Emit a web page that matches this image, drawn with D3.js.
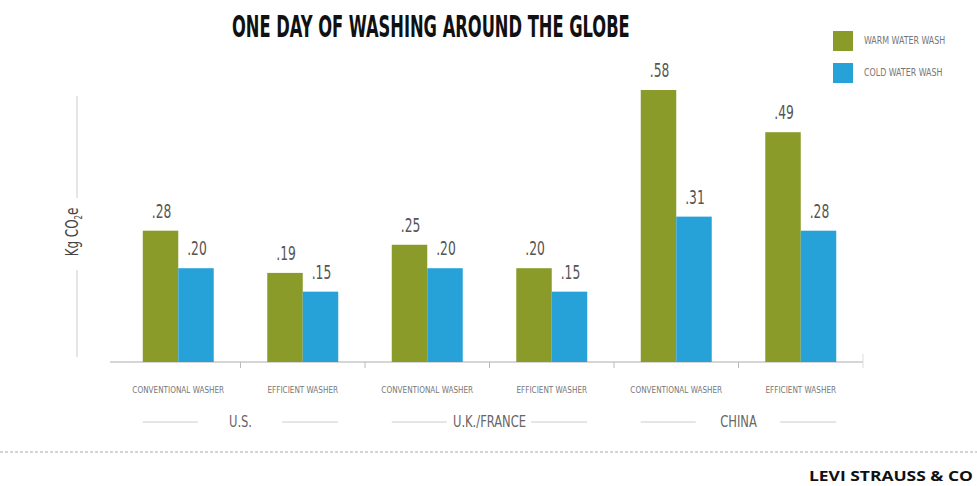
<!DOCTYPE html>
<html><head><meta charset="utf-8">
<script src="https://cdn.jsdelivr.net/npm/d3@7"></script>
<style>
body{margin:0;background:#fff;}
svg{display:block;}
text{font-family:"Liberation Sans Narrow","DejaVu Sans Condensed","Roboto",sans-serif;}
</style></head>
<body>
<svg id="c" width="977" height="486"></svg>
<script>
const categories = ["CONVENTIONAL WASHER","EFFICIENT WASHER","CONVENTIONAL WASHER","EFFICIENT WASHER","CONVENTIONAL WASHER","EFFICIENT WASHER"];
const regions = ["U.S.","U.K./FRANCE","CHINA"];
const seriesNames = ["WARM WATER WASH","COLD WATER WASH"];
const warm = [0.28,0.19,0.25,0.20,0.58,0.49];
const cold = [0.20,0.15,0.20,0.15,0.31,0.28];
const valueLabels = [[".28",".19",".25",".20",".58",".49"],[".20",".15",".20",".15",".31",".28"]];
const colors = ["#8a9b2a","#27a2d9"];
const title = "ONE DAY OF WASHING AROUND THE GLOBE";
const yLabel = "Kg CO";

const svg = d3.select("#c");
const baseY = 362;
const x = d3.scaleBand().domain(d3.range(categories.length)).range([116,863]).paddingInner(0.43).paddingOuter(0.215);
const xs = d3.scaleBand().domain([0,1]).range([0,x.bandwidth()]);
const y = d3.scaleLinear().domain([0,0.58]).range([baseY,90]);

function ctext(parent, tx, ty, str, size, sx, opts={}){
  const t = parent.append("text")
    .attr("transform",`translate(${tx},${ty}) scale(${sx},1)`)
    .attr("font-size",size).attr("fill",opts.fill||"#555")
    .attr("text-anchor",opts.anchor||"middle").text(str);
  if(opts.weight) t.attr("font-weight",opts.weight);
  return t;
}
function fitText(tx, ty, str, size, width, opts={}){
  const t = svg.append("text").attr("font-size",size).attr("font-weight",opts.weight||"normal")
    .attr("fill",opts.fill||"#111").text(str);
  if(opts.family) t.style("font-family",opts.family);
  const w = t.node().getComputedTextLength();
  t.attr("transform",`translate(${tx},${ty}) scale(${width/w},1)`);
  return t;
}

// title
fitText(232, 37, title, 30, 398, {weight:"bold", fill:"#111"});

// baseline
svg.append("line").attr("x1",110).attr("x2",863).attr("y1",baseY).attr("y2",baseY).attr("stroke","#c8c8c8").attr("stroke-width",1.5);
for(let i=1;i<categories.length;i++){
  const tx = (x(i-1)+x.bandwidth()+x(i))/2;
  svg.append("line").attr("x1",tx).attr("x2",tx).attr("y1",baseY).attr("y2",baseY+6).attr("stroke","#bbb");
}
svg.append("line").attr("x1",863).attr("x2",863).attr("y1",baseY-8).attr("y2",baseY+6).attr("stroke","#ddd");

// y axis line and label
svg.append("line").attr("x1",77).attr("x2",77).attr("y1",96).attr("y2",198).attr("stroke","#ccc");
svg.append("line").attr("x1",77).attr("x2",77).attr("y1",270).attr("y2",357).attr("stroke","#ccc");
const yl = svg.append("text").attr("transform","translate(78,232) rotate(-90) scale(0.78,1)").attr("text-anchor","middle")
  .attr("font-size",17).attr("fill","#444");
yl.append("tspan").text(yLabel);
yl.append("tspan").attr("font-size",10).attr("dy",4).text("2");
yl.append("tspan").attr("dy",-4).text("e");

// bars
const series = [warm, cold];
series.forEach((vals,s)=>{
  svg.append("g").selectAll("rect").data(vals).join("rect")
    .attr("x",(d,i)=>x(i)+xs(s)).attr("width",xs.bandwidth())
    .attr("y",d=>y(d)).attr("height",d=>baseY-y(d)).attr("fill",colors[s]);
  const g = svg.append("g");
  vals.forEach((d,i)=>{
    ctext(g, x(i)+xs(s)+xs.bandwidth()/2+1, y(d)-13, valueLabels[s][i], 19, 0.72, {fill:"#555"});
  });
});

// category labels
const cg = svg.append("g");
categories.forEach((c,i)=>{
  ctext(cg, x(i)+x.bandwidth()/2, 393, c, 9, 0.9, {fill:"#777"});
});

// region labels with lines
regions.forEach((r,k)=>{
  const a = x(2*k), b = x(2*k+1)+x.bandwidth();
  const cx = (x(2*k)+x.bandwidth()+x(2*k+1))/2;
  ctext(svg, cx, 427, r, 16, 0.8, {fill:"#666"});
  svg.append("line").attr("x1",a).attr("x2",a+55).attr("y1",422).attr("y2",422).attr("stroke","#ccc");
  svg.append("line").attr("x1",b-56).attr("x2",b).attr("y1",422).attr("y2",422).attr("stroke","#ccc");
});

// legend
seriesNames.forEach((n,s)=>{
  svg.append("rect").attr("x",833).attr("y",31+s*32).attr("width",20).attr("height",20).attr("fill",colors[s]);
  ctext(svg, 864, 44+s*32, n, 10, 0.88, {fill:"#777", anchor:"start"});
});

// footer
svg.append("line").attr("x1",0).attr("x2",977).attr("y1",452).attr("y2",452).attr("stroke","#aaa").attr("stroke-dasharray","3,2");
fitText(809, 481, "LEVI STRAUSS & CO", 15, 164, {weight:"bold", fill:"#111", family:"'Open Sans',sans-serif"});
</script>
</body></html>
